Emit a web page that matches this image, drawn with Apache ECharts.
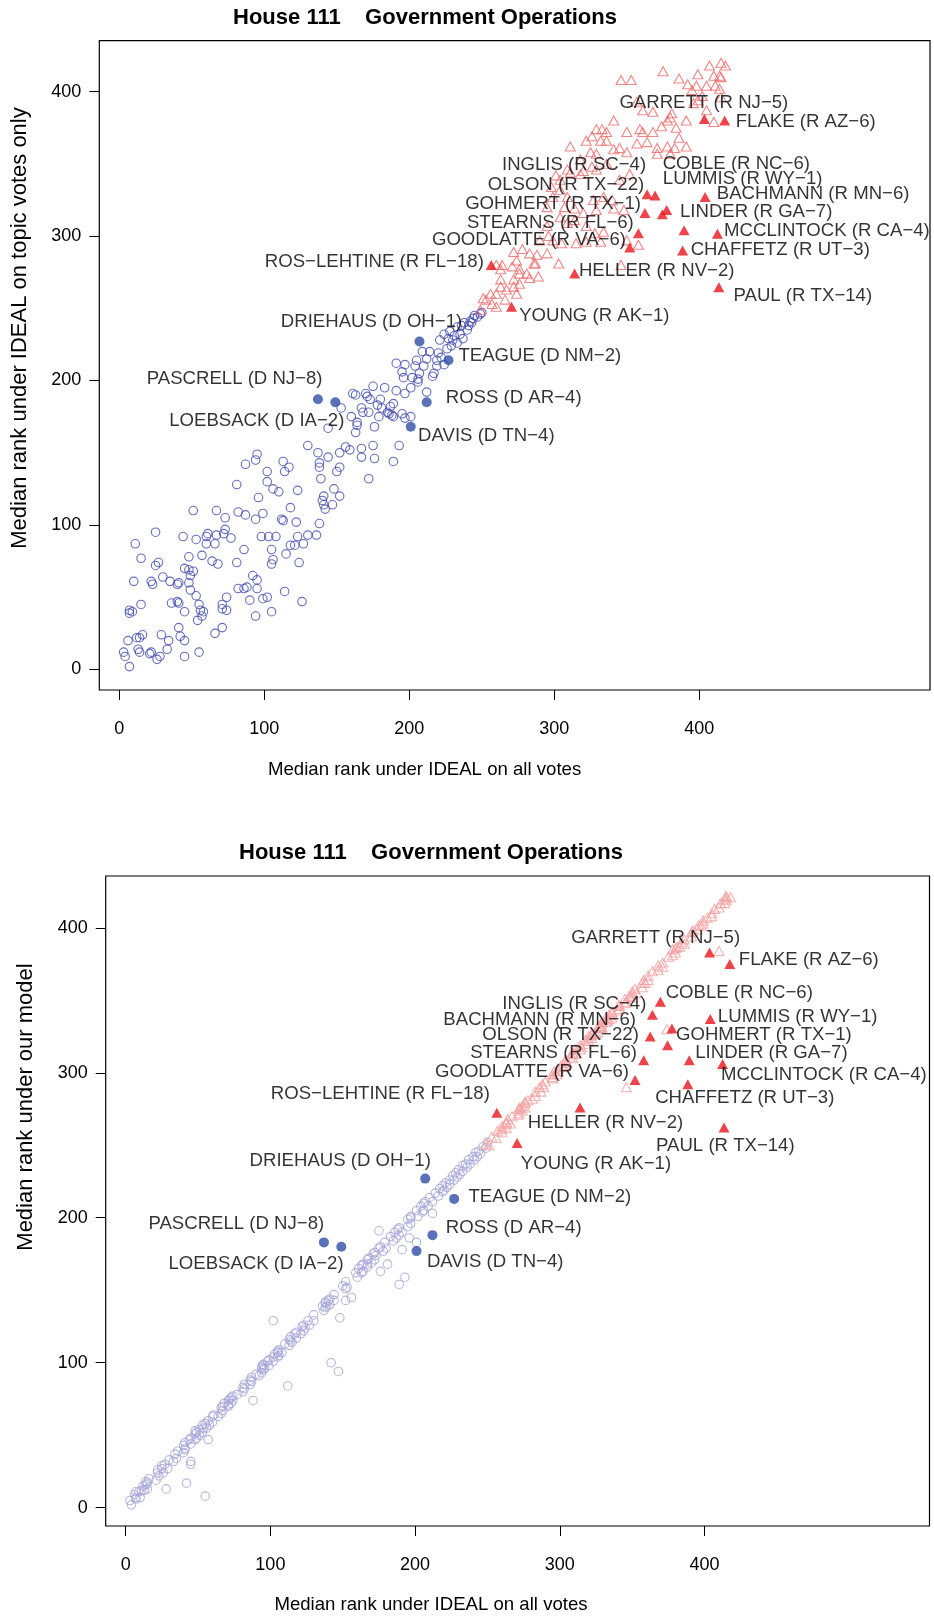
<!DOCTYPE html>
<html>
<head>
<meta charset="utf-8">
<script src="https://cdn.jsdelivr.net/npm/echarts/dist/echarts.min.js"></script>
<style>
html,body{margin:0;padding:0;background:#fff;}
#chart{width:934px;height:1618px;}
</style>
</head>
<body>
<div id="chart"></div>
<script>
// ---------------- DATA ----------------
const chartTitle = 'House 111    Government Operations';
const xAxisTitle = 'Median rank under IDEAL on all votes';
const yAxisTitleTop = 'Median rank under IDEAL on topic votes only';
const yAxisTitleBottom = 'Median rank under our model';
const xTicks = [0, 100, 200, 300, 400];
const yTicks = [0, 100, 200, 300, 400];

// Democrats: [rank on all votes, rank on topic votes, rank under model]
const demMembers = [
[3,12,5],[4,9,2],[6,20,9],[7,2,7],[7,41,11],[7,39,6],[9,40,11],[10,61,7],[11,87,12],[12,22,15],
[13,14,12],[14,22,16],[14,12,18],[15,45,13],[15,77,17],[16,24,20],[21,11,19],[22,61,24],[22,12,26],[23,59,22],
[25,95,27],[25,72,29],[26,7,24],[27,74,30],[28,9,13],[29,24,27],[30,64,33],[33,14,32],[34,20,37],[35,61,34],
[36,46,39],[40,47,38],[40,59,43],[41,60,41],[41,46,45],[41,29,40],[42,23,17],[44,92,47],[45,9,44],[45,20,32],
[45,40,30],[45,70,48],[48,78,47],[48,69,51],[48,60,53],[49,65,48],[49,55,52],[51,68,50],[51,110,54],[53,51,52],
[53,90,57],[54,34,55],[55,12,8],[55,45,58],[56,41,55],[57,37,47],[57,79,60],[58,40,57],[60,92,63],[60,87,59],
[61,94,64],[64,75,63],[66,87,69],[66,25,65],[67,110,70],[67,93,67],[68,73,72],[71,29,70],[71,45,74],[71,42,71],
[72,94,75],[73,97,72],[73,105,76],[74,50,74],[74,41,77],[77,91,78],[81,128,83],[81,74,80],[82,109,85],[82,56,82],
[86,83,88],[86,56,85],[87,107,90],[87,142,87],[88,57,74],[90,48,92],[92,65,91],[94,145,97],[94,104,93],[94,37,96],
[95,149,99],[95,62,95],[95,56,98],[96,119,96],[98,92,101],[99,108,98],[99,49,102],[102,137,104],[102,130,129],[102,50,101],
[103,92,106],[105,83,104],[105,73,108],[105,40,107],[106,125,105],[106,76,109],[108,92,107],[110,123,113],[112,104,84],[113,144,112],
[113,103,116],[114,137,115],[114,54,118],[115,80,114],[117,140,120],[118,112,117],[118,86,121],[121,86,120],[122,102,125],[123,124,122],
[123,92,126],[124,74,124],[126,47,129],[127,87,126],[130,93,133],[130,155,129],[136,93,139],[137,150,136],[138,101,141],[138,143,138],
[138,140,142],[139,132,139],[140,117,143],[141,120,140],[141,114,144],[142,111,100],[144,147,147],[144,167,143],[147,114,94],[148,125,131],
[150,137,153],[152,120,151],[152,140,143],[152,150,156],[153,181,152],[156,154,145],[159,152,162],[160,175,159],[161,191,165],[163,190,162],
[163,164,167],[164,169,163],[164,171,168],[167,147,166],[167,153,171],[167,181,168],[168,178,172],[170,191,169],[171,189,175],[172,132,171],
[172,178,176],[173,187,174],[175,155,179],[175,196,191],[176,146,163],[176,168,180],[178,183,177],[179,175,183],[180,187,179],[181,181,168],
[183,195,187],[185,178,184],[186,177,190],[187,182,186],[188,176,192],[189,144,154],[189,175,188],[189,184,193],[191,212,190],[191,193,178],
[193,155,159],[195,177,199],[195,206,194],[196,202,186],[197,211,201],[197,174,196],[197,191,200],[201,175,183],[201,195,205],[202,202,201],
[204,210,208],[205,214,204],[206,199,210],[206,201,205],[207,205,211],[209,220,208],[210,210,214],[212,192,203],[212,215,211],[214,220,217],
[216,203,215],[217,205,220],[219,214,218],[219,210,222],[220,219,219],[221,228,224],[222,216,221],[224,232,226],[224,211,223],[226,222,229],
[227,229,226],[228,234,231],[229,224,228],[230,228,233],[231,231,230],[233,237,236],[233,226,232],[235,232,237],[236,238,235],[237,229,240],
[238,240,237],[240,235,242],[241,238,240],[242,241,245],[243,240,242],[244,243,246],[245,245,244],[247,244,249],[249,246,248],[250,247,252]
];

// Republicans: [rank on all votes, rank on topic votes, rank under model]
const repMembers = [
[249,249,251],[251,257,250],[253,256,256],[256,260,255],[257,253,260],[260,280,259],[260,260,263],[260,251,261],[263,277,266],[263,265,262],
[263,270,265],[264,280,268],[266,256,265],[267,263,270],[271,279,271],[272,289,275],[272,265,272],[272,270,276],[274,283,274],[274,260,277],
[276,274,280],[276,267,276],[276,277,279],[278,291,281],[281,274,282],[283,288,287],[283,271,284],[286,281,290],[287,281,287],[288,287,292],
[289,272,290],[290,297,294],[295,288,296],[295,320,299],[295,307,297],[296,300,301],[298,334,299],[299,327,303],[299,297,301],[301,342,305],
[303,281,304],[304,339,308],[304,332,305],[304,313,309],[305,295,307],[307,320,311],[309,346,310],[309,327,313],[309,309,314],[311,362,313],
[311,344,316],[314,319,316],[314,311,319],[315,295,318],[318,353,320],[318,343,323],[320,345,322],[320,316,325],[322,366,324],[322,307,327],
[322,296,326],[325,358,327],[326,369,331],[326,348,328],[327,325,332],[328,302,331],[329,374,335],[329,357,331],[329,346,334],[329,318,332],
[332,366,338],[332,296,335],[333,374,336],[334,327,340],[334,303,337],[336,372,341],[336,366,338],[336,350,342],[340,325,343],[341,380,347],
[341,360,344],[341,319,346],[345,361,351],[345,339,348],[346,408,349],[346,280,290],[348,318,353],[350,372,352],[350,358,356],[350,297,354],
[352,343,358],[353,408,355],[357,393,362],[357,364,359],[358,294,364],[359,374,362],[361,387,367],[361,372,364],[364,365,370],[368,386,371],
[368,372,374],[371,361,376],[371,357,373],[374,376,330],[375,414,380],[378,380,381],[378,362,385],[380,382,386],[380,357,383],[381,385,387],
[383,361,387],[384,375,390],[386,409,389],[386,368,392],[391,380,397],[391,362,394],[392,405,398],[395,401,399],[396,392,402],[398,404,401],
[399,412,405],[399,394,403],[402,397,407],[405,404,410],[405,387,408],[407,418,413],[410,411,414],[410,379,384],[411,404,417],[414,411,420],
[414,402,417],[415,420,421],[415,410,419],[415,396,422],[418,418,421]
];

// Highlighted (labelled) members
const labeledNames = ['PASCRELL (D NJ\u22128)','LOEBSACK (D IA\u22122)','DAVIS (D TN\u22124)','DRIEHAUS (D OH\u22121)','ROSS (D AR\u22124)','TEAGUE (D NM\u22122)',
'ROS\u2212LEHTINE (R FL\u221218)','YOUNG (R AK\u22121)','HELLER (R NV\u22122)','GOODLATTE (R VA\u22126)','STEARNS (R FL\u22126)','OLSON (R TX\u221222)',
'INGLIS (R SC\u22124)','COBLE (R NC\u22126)','GOHMERT (R TX\u22121)','LINDER (R GA\u22127)','CHAFFETZ (R UT\u22123)','BACHMANN (R MN\u22126)',
'GARRETT (R NJ\u22125)','LUMMIS (R WY\u22121)','MCCLINTOCK (R CA\u22124)','PAUL (R TX\u221214)','FLAKE (R AZ\u22126)'];
const labeledParty = ['D','D','D','D','D','D','R','R','R','R','R','R','R','R','R','R','R','R','R','R','R','R','R'];
const labeledAllVotes = [137,149,201,207,212,227,256.5,270.5,314,352,358,362.5,364,369.5,374.5,377.5,388.5,389.5,403.5,404,412.5,413.5,417.5];
const labeledTopic    = [187,185,168,227,185,214,280,251,274,292,302,316,329,328,315,318,290,304,381,327,301.5,264.5,380];
const labeledModel    = [183,180,177,227,188,213,272.5,251.5,276,295,308.7,325,340,349,319,330.6,292,308.7,383,337,306,262.3,375];

// ---------------- LAYOUT (label placement: align, dx, dy in px) ----------------
const topLabelPlacement = [
['right',4.6,-20.4],['right',9,18.3],['left',7.3,9.3],['right',42.7,-19.3],['left',19,-4],['left',10,-4.3],
['right',-7.4,-3],['left',7.6,9.3],['left',4.3,-2.7],['right',-3.7,-8],['right',-4.6,-10.7],['right',-0.7,-28.4],
['right',-1,-29],['left',7.6,-32],['right',-21.4,-10],['left',13.3,2],['left',8,-0.7],['left',32.7,-36],
['left',-85,-16.6],['left',-42.3,-18.4],['left',6.6,-3.3],['left',14.6,8.7],['left',11,1]];
const bottomLabelPlacement = [
['right',0.3,-19],['right',2.3,17.3],['left',10.4,11],['right',5.7,-17.6],['left',13.3,-7.7],['left',14.3,-2],
['right',-7,-18.7],['left',3.7,20.6],['left',-52.3,15.4],['right',-6,-8.3],['right',-6.7,-7.7],['right',-11.4,-1.7],
['right',-6,-11],['left',5.3,-8.4],['left',8.4,-10],['left',23.3,24.4],['left',-32.7,14],['right',-53.3,-40.7],
['left',-138.3,-14.4],['left',7.6,-2.6],['left',-1.6,11.3],['left',-68,18.7],['left',9,-4]];

const FONT = "'Liberation Sans', Arial, Helvetica, sans-serif";
const LABEL_SIZE = 18.6;
const YTITLE_SIZE = 22;

const chart = echarts.init(document.getElementById('chart'), null, {renderer: 'canvas'});

function makeXAxis(gridIndex, min, max) {
  return {
    type: 'value', gridIndex, min, max, position: 'bottom',
    splitLine: {show: false},
    axisLine: {show: false, onZero: false},
    axisTick: {show: true, inside: false, length: 10, lineStyle: {color: '#000', width: 1}, customValues: xTicks},
    axisLabel: {show: true, customValues: xTicks, margin: 30, fontSize: 18, color: '#000', fontFamily: FONT}
  };
}
function makeYAxis(gridIndex, min, max) {
  return {
    type: 'value', gridIndex, min, max, position: 'left',
    splitLine: {show: false},
    axisLine: {show: false, onZero: false},
    axisTick: {show: true, inside: false, length: 10, lineStyle: {color: '#000', width: 1}, customValues: yTicks},
    axisLabel: {show: true, customValues: yTicks, margin: 18, fontSize: 18, color: '#000', fontFamily: FONT}
  };
}

function labeledItems(party, yArr, placement) {
  const out = [];
  for (let i = 0; i < labeledNames.length; i++) {
    if (labeledParty[i] !== party) continue;
    const p = placement[i];
    out.push({
      name: labeledNames[i],
      value: [labeledAllVotes[i], yArr[i]],
      label: {align: p[0], offset: [p[1], p[2]]}
    });
  }
  return out;
}

const labelStyle = {
  show: true, position: 'inside', formatter: '{b}', verticalAlign: 'middle',
  color: '#000', fontSize: LABEL_SIZE, fontFamily: FONT
};

function plotSeries(idx, yCol, yLab, placement, colors) {
  return [
    {
      type: 'scatter', xAxisIndex: idx, yAxisIndex: idx, symbol: 'circle', symbolSize: 8.5,
      data: demMembers.map(m => [m[0], m[yCol]]),
      itemStyle: {color: 'rgba(0,0,0,0)', borderColor: colors.demOpen, borderWidth: 1.1},
      silent: true, z: 2
    },
    {
      type: 'scatter', xAxisIndex: idx, yAxisIndex: idx, symbol: 'triangle', symbolSize: [10, 9],
      data: repMembers.map(m => [m[0], m[yCol]]),
      itemStyle: {color: 'rgba(0,0,0,0)', borderColor: colors.repOpen, borderWidth: 1.1},
      silent: true, z: 2
    },
    {
      type: 'scatter', xAxisIndex: idx, yAxisIndex: idx, symbol: 'circle', symbolSize: 10,
      data: labeledItems('D', yLab, placement),
      itemStyle: {color: '#2F4EA6'},
      label: labelStyle, silent: true, z: 4
    },
    {
      type: 'scatter', xAxisIndex: idx, yAxisIndex: idx, symbol: 'triangle', symbolSize: [11, 10],
      data: labeledItems('R', yLab, placement),
      itemStyle: {color: '#E8141B'},
      label: labelStyle, silent: true, z: 4
    }
  ];
}

const option = {
  animation: false,
  backgroundColor: '#fff',
  grid: [
    {left: 99.3, top: 40.7, width: 830.7, height: 649.3, show: true, borderColor: '#000', borderWidth: 1.2, backgroundColor: 'rgba(0,0,0,0)'},
    {left: 105.7, top: 876, width: 823.8, height: 650, show: true, borderColor: '#000', borderWidth: 1.2, backgroundColor: 'rgba(0,0,0,0)'}
  ],
  xAxis: [makeXAxis(0, -13.8, 559.1), makeXAxis(1, -13.8, 555.5)],
  yAxis: [makeYAxis(0, -14.2, 435.2), makeYAxis(1, -12.6, 435.7)],
  series: [].concat(
    plotSeries(0, 1, labeledTopic, topLabelPlacement, {demOpen: '#3F49AE', repOpen: '#EE6A6A'}),
    plotSeries(1, 2, labeledModel, bottomLabelPlacement, {demOpen: '#A5A5D8', repOpen: '#F4A0A0'})
  ),
  graphic: [
    {type: 'text', x: 425, y: 17.7, style: {text: chartTitle, fontSize: 22, fontWeight: 'bold', fontFamily: FONT, fill: '#000', align: 'center', verticalAlign: 'middle'}},
    {type: 'text', x: 431, y: 853, style: {text: chartTitle, fontSize: 22, fontWeight: 'bold', fontFamily: FONT, fill: '#000', align: 'center', verticalAlign: 'middle'}},
    {type: 'text', x: 424.6, y: 770, style: {text: xAxisTitle, fontSize: LABEL_SIZE, fontFamily: FONT, fill: '#000', align: 'center', verticalAlign: 'middle'}},
    {type: 'text', x: 431, y: 1605, style: {text: xAxisTitle, fontSize: LABEL_SIZE, fontFamily: FONT, fill: '#000', align: 'center', verticalAlign: 'middle'}},
    {type: 'text', x: 19.6, y: 328, rotation: Math.PI / 2, style: {text: yAxisTitleTop, fontSize: YTITLE_SIZE, fontFamily: FONT, fill: '#000', align: 'center', verticalAlign: 'middle'}},
    {type: 'text', x: 25.8, y: 1107, rotation: Math.PI / 2, style: {text: yAxisTitleBottom, fontSize: YTITLE_SIZE, fontFamily: FONT, fill: '#000', align: 'center', verticalAlign: 'middle'}}
  ]
};
chart.setOption(option);
</script>
</body>
</html>
